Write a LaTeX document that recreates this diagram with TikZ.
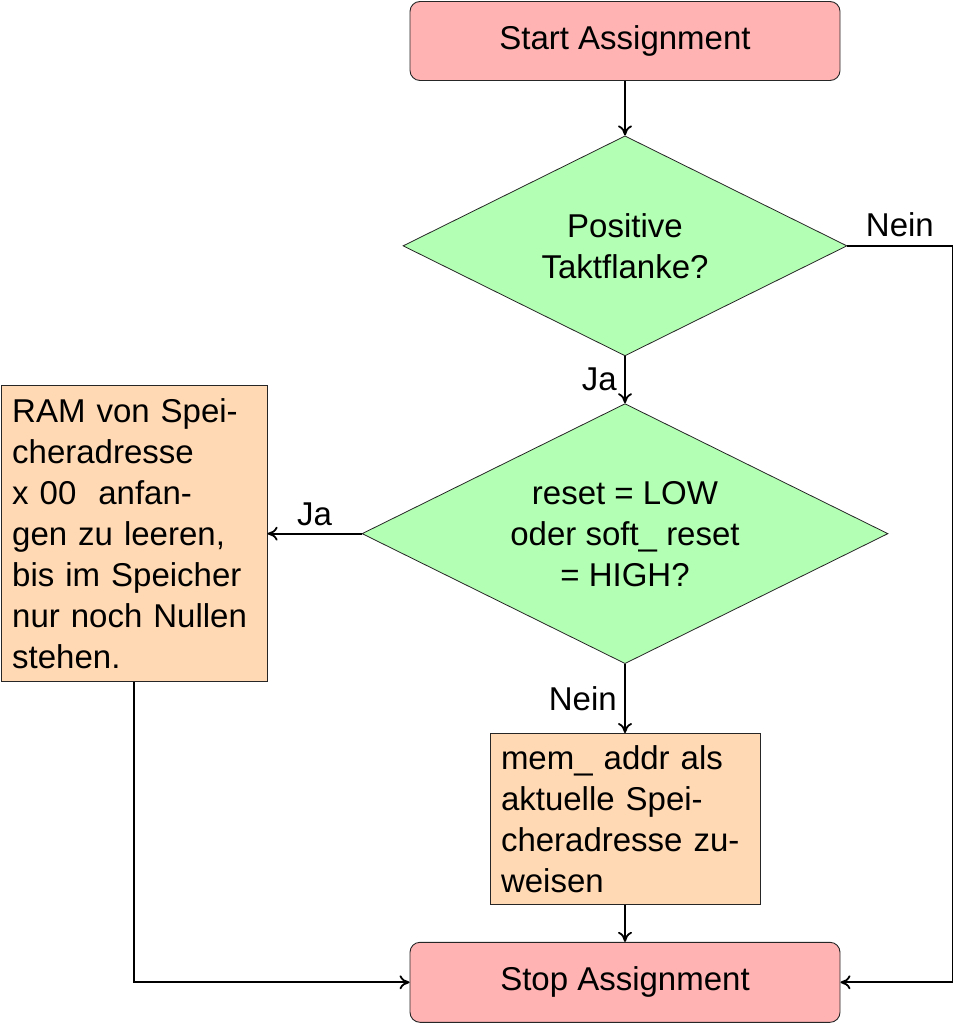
\documentclass[tikz,border=0pt]{standalone}
\usepackage{fontspec}
\setmainfont{Liberation Sans}
\usetikzlibrary{positioning}
\usetikzlibrary{shapes.geometric,arrows.meta}
\definecolor{termfill}{RGB}{255,179,179}
\definecolor{askfill}{RGB}{179,255,179}
\definecolor{jobfill}{RGB}{255,217,179}

\begin{document}
\begin{tikzpicture}[x=1pt,y=-1pt,font=\fontsize{33}{41}\selectfont,
  term/.style={rectangle,rounded corners=10pt,draw=black!85,line width=0.9pt,fill=termfill,minimum width=430pt,minimum height=79pt},
  ask/.style={diamond,aspect=2,draw=black!85,line width=0.8pt,fill=askfill,align=center,inner sep=0pt},
  job/.style={rectangle,draw=black!85,line width=0.8pt,fill=jobfill,align=left,inner xsep=11pt},
  flow/.style={-{To[length=10pt,width=14pt]},line width=1.8pt}]
\useasboundingbox (0,0) rectangle (954,1024);

\node[term] (start) at (625,41) {Start Assignment};
\node[ask,minimum width=444pt,minimum height=220pt,below=54.5pt of start] (flanke) {Positive\\Taktflanke?};
\node[ask,minimum width=526pt,minimum height=260pt,below=47pt of flanke] (reset) {reset = LOW\\oder soft\_ reset\\= HIGH?};
\node[job,text width=244pt,minimum height=296pt,left=94pt of reset] (clear) {RAM von Spei-\\cheradresse\\x 00\ \ anfan-\\gen zu leeren,\\bis im Speicher\\nur noch Nullen\\stehen.};
\node[job,text width=248pt,minimum height=171pt,below=69pt of reset] (addr) {mem\_ addr als\\aktuelle Spei-\\cheradresse zu-\\weisen};
\node[term,minimum height=80pt,below=37pt of addr] (stop) {Stop Assignment};
\coordinate[right=105pt of flanke] (turn);

\draw[flow] (start) -- (flanke);
\draw[flow] (flanke) -- node[left,xshift=-4pt] {Ja} (reset);
\draw[flow] (reset) -- node[above,yshift=4pt] {Ja} (clear);
\draw[flow] (reset) -- node[left,xshift=-4pt] {Nein} (addr);
\draw[flow] (addr) -- (stop);
\draw[flow] (flanke.east) -- node[above,yshift=5pt] {Nein} (turn) |- (stop.east);
\draw[flow] (clear.south) |- (stop.west);

\end{tikzpicture}
\end{document}
